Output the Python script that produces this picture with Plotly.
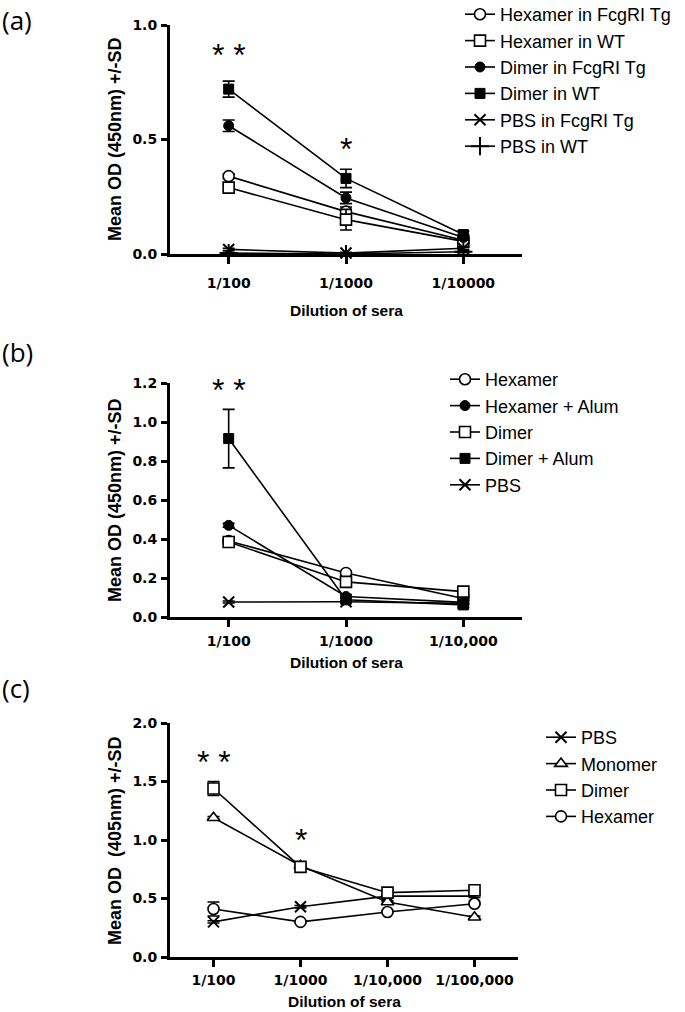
import plotly.graph_objects as go

W, H = 685, 1012
def px(x): return x / W
def py(y): return 1 - y / H

# ---------------- data ----------------
a_labels = ["1/100", "1/1000", "1/10000"]
a_names = ["Hexamer in FcgRI Tg", "Hexamer in WT", "Dimer in FcgRI Tg", "Dimer in WT",
           "PBS in FcgRI Tg", "PBS in WT"]
a_hex_tg = [0.34, 0.185, 0.06]
a_hex_tg_sd = [0.01, 0.02, 0.01]
a_hex_wt = [0.29, 0.15, 0.055]
a_hex_wt_sd = [0.012, 0.045, 0.01]
a_dim_tg = [0.56, 0.245, 0.072]
a_dim_tg_sd = [0.025, 0.025, 0.012]
a_dim_wt = [0.72, 0.33, 0.085]
a_dim_wt_sd = [0.035, 0.04, 0.015]
a_pbs_tg = [0.02, 0.004, 0.025]
a_pbs_tg_sd = [0.005, 0.003, 0.005]
a_pbs_wt = [0.004, 0.0, 0.01]
a_pbs_wt_sd = [0.003, 0.002, 0.004]

b_labels = ["1/100", "1/1000", "1/10,000"]
b_names = ["Hexamer", "Hexamer + Alum", "Dimer", "Dimer + Alum", "PBS"]
b_hex = [0.39, 0.226, 0.095]
b_hex_sd = [0.01, 0.01, 0.01]
b_hex_alum = [0.47, 0.105, 0.075]
b_hex_alum_sd = [0.01, 0.01, 0.01]
b_dim = [0.385, 0.18, 0.13]
b_dim_sd = [0.01, 0.01, 0.01]
b_dim_alum = [0.915, 0.088, 0.062]
b_dim_alum_sd = [0.15, 0.01, 0.01]
b_pbs = [0.077, 0.078, 0.07]
b_pbs_sd = [0.005, 0.005, 0.005]

c_labels = ["1/100", "1/1000", "1/10,000", "1/100,000"]
c_names = ["PBS", "Monomer", "Dimer", "Hexamer"]
c_pbs = [0.30, 0.43, 0.52, 0.52]
c_pbs_sd = [0.01, 0.01, 0.01, 0.01]
c_mono = [1.19, 0.78, 0.47, 0.34]
c_mono_sd = [0.01, 0.01, 0.01, 0.01]
c_dim = [1.44, 0.77, 0.55, 0.57]
c_dim_sd = [0.06, 0.02, 0.02, 0.02]
c_hex = [0.41, 0.30, 0.385, 0.455]
c_hex_sd = [0.06, 0.01, 0.01, 0.01]

FONT = "Arial"
TICKFONT = "DejaVu Sans"
fig = go.Figure()

STY = {
    "circle-open": dict(symbol="circle", color="white", lw=1.6, size=11),
    "circle": dict(symbol="circle", color="black", lw=1.0, size=10),
    "square-open": dict(symbol="square", color="white", lw=1.6, size=11),
    "square": dict(symbol="square", color="black", lw=1.0, size=10),
    "x": dict(symbol="x-thin", color="black", lw=2.0, size=11),
    "cross": dict(symbol="cross-thin", color="black", lw=2.0, size=13),
    "triangle": dict(symbol="triangle-up", color="white", lw=1.6, size=11),
}

def add(xl, y, sd, name, sty, xa, ya, leg):
    s = STY[sty]
    fig.add_trace(go.Scatter(
        x=list(range(len(xl))), y=y, name=name, mode="lines+markers",
        xaxis=xa, yaxis=ya, legend=leg, cliponaxis=False,
        line=dict(color="black", width=1.6),
        marker=dict(symbol=s["symbol"], color=s["color"], size=s["size"],
                    line=dict(color="black", width=s["lw"])),
        error_y=dict(type="data", array=sd, visible=True, color="black",
                     thickness=1.6, width=6),
    ))

# panel a
add(a_labels, a_hex_tg, a_hex_tg_sd, a_names[0], "circle-open", "x", "y", "legend")
add(a_labels, a_hex_wt, a_hex_wt_sd, a_names[1], "square-open", "x", "y", "legend")
add(a_labels, a_dim_tg, a_dim_tg_sd, a_names[2], "circle", "x", "y", "legend")
add(a_labels, a_dim_wt, a_dim_wt_sd, a_names[3], "square", "x", "y", "legend")
add(a_labels, a_pbs_tg, a_pbs_tg_sd, a_names[4], "x", "x", "y", "legend")
add(a_labels, a_pbs_wt, a_pbs_wt_sd, a_names[5], "cross", "x", "y", "legend")
# panel b
add(b_labels, b_hex, b_hex_sd, b_names[0], "circle-open", "x2", "y2", "legend2")
add(b_labels, b_hex_alum, b_hex_alum_sd, b_names[1], "circle", "x2", "y2", "legend2")
add(b_labels, b_dim, b_dim_sd, b_names[2], "square-open", "x2", "y2", "legend2")
add(b_labels, b_dim_alum, b_dim_alum_sd, b_names[3], "square", "x2", "y2", "legend2")
add(b_labels, b_pbs, b_pbs_sd, b_names[4], "x", "x2", "y2", "legend2")
# panel c
add(c_labels, c_pbs, c_pbs_sd, c_names[0], "x", "x3", "y3", "legend3")
add(c_labels, c_mono, c_mono_sd, c_names[1], "triangle", "x3", "y3", "legend3")
add(c_labels, c_dim, c_dim_sd, c_names[2], "square-open", "x3", "y3", "legend3")
add(c_labels, c_hex, c_hex_sd, c_names[3], "circle-open", "x3", "y3", "legend3")

tickfont = dict(family=TICKFONT, size=14, color="black", weight="bold")

def xaxis(labels, dom, yanchor, standoff):
    n = len(labels)
    return dict(domain=dom, anchor=yanchor, range=[-0.5, n - 0.5],
                tickmode="array", tickvals=list(range(n)), ticktext=labels,
                showline=True, linecolor="black", linewidth=3,
                ticks="outside", ticklen=7, tickwidth=2.5, tickcolor="black",
                showgrid=False, zeroline=False, tickfont=tickfont,
                ticklabelstandoff=standoff, automargin=False)

def yaxis(rng, dtick, dom, xanchor, fmt):
    return dict(domain=dom, anchor=xanchor, range=rng, dtick=dtick, tick0=0,
                tickformat=fmt, showline=True, linecolor="black", linewidth=3,
                ticks="outside", ticklen=6, tickwidth=2.5, tickcolor="black",
                showgrid=False, zeroline=False, tickfont=tickfont,
                ticklabelstandoff=1, automargin=False)

fig.update_layout(
    width=W, height=H, margin=dict(l=0, r=0, t=0, b=0, pad=0, autoexpand=False),
    paper_bgcolor="white", plot_bgcolor="white",
    xaxis=xaxis(a_labels, [px(170), px(522)], "y", 7),
    yaxis=yaxis([0, 1.0], 0.5, [py(254), py(25)], "x", ".1f"),
    xaxis2=xaxis(b_labels, [px(170), px(522)], "y2", 2),
    yaxis2=yaxis([0, 1.2], 0.2, [py(617), py(383)], "x2", ".1f"),
    xaxis3=xaxis(c_labels, [px(170), px(518)], "y3", 1),
    yaxis3=yaxis([0, 2.0], 0.5, [py(957), py(723)], "x3", ".1f"),
)

legfont = dict(family=FONT, size=18, color="black")
for key, ytop, xl in [("legend", -4, 460), ("legend2", 361, 445), ("legend3", 719, 541)]:
    fig.update_layout({key: dict(x=px(xl), y=py(ytop), xanchor="left", yanchor="top",
                                 font=legfont, itemwidth=30, bgcolor="rgba(0,0,0,0)",
                                 tracegroupgap=0)})

ann = []
for txt, yy in [("(a)", 20), ("(b)", 352), ("(c)", 688)]:
    ann.append(dict(text=txt, x=px(0), y=py(yy), xref="paper", yref="paper",
                    xanchor="left", yanchor="middle", showarrow=False,
                    font=dict(family="Open Sans, sans-serif", size=26, color="black")))
titlefont = dict(family=FONT, size=15.5, color="black", weight="bold")
for yy, xx in [(310, 346), (662, 346), (1001, 344)]:
    ann.append(dict(text="Dilution of sera", x=px(xx), y=py(yy),
                    xref="paper", yref="paper", xanchor="center", yanchor="middle",
                    showarrow=False, font=titlefont))
ytitlefont = dict(family=FONT, size=18, color="black", weight="bold")
for txt, yy in [("Mean OD (450nm) +/-SD", 139), ("Mean OD (450nm) +/-SD", 500),
                ("Mean OD  (405nm) +/-SD", 840)]:
    ann.append(dict(text=txt, x=px(115), y=py(yy), xref="paper", yref="paper",
                    xanchor="center", yanchor="middle", showarrow=False,
                    textangle=-90, font=ytitlefont))
starfont = dict(family=FONT, size=32, color="black")
ann.append(dict(text="* *", x=0, y=0.87, xref="x", yref="y", showarrow=False, font=starfont))
ann.append(dict(text="*", x=1, y=0.46, xref="x", yref="y", showarrow=False, font=starfont))
ann.append(dict(text="* *", x=0, y=1.165, xref="x2", yref="y2", showarrow=False, font=starfont))
ann.append(dict(text="* *", x=0, y=1.67, xref="x3", yref="y3", showarrow=False, font=starfont))
ann.append(dict(text="*", x=1, y=1.0, xref="x3", yref="y3", showarrow=False, font=starfont))
fig.update_layout(annotations=ann)

fig.write_html(
    "out.html", config={"displayModeBar": False},
    post_script="document.documentElement.style.margin='0';"
                "document.body.style.margin='0';document.body.style.padding='0';"
                "document.body.style.overflow='hidden';")
